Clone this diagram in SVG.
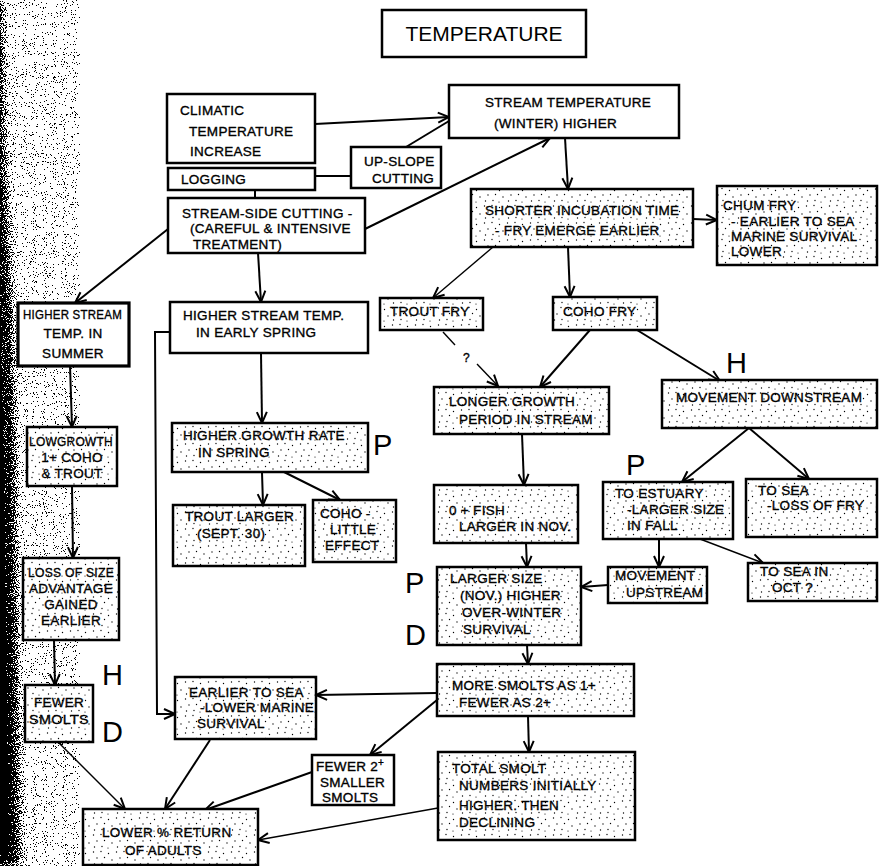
<svg xmlns="http://www.w3.org/2000/svg" width="879" height="866" viewBox="0 0 879 866">
  <defs>
    <style>
      text { font-family: "Liberation Sans", Arial, sans-serif; font-size: 13.5px; fill: #000; stroke: #000; stroke-width: 0.35; letter-spacing: 0.3px; }
      .big { font-size: 21px; letter-spacing: 0; stroke-width: 0; }
      .mark { font-size: 29px; letter-spacing: 0; stroke-width: 0; }
      .box { fill: #fff; stroke: #000; stroke-width: 2.5; }
      .dot { fill: url(#stipple); stroke: #000; stroke-width: 2.5; }
      .thick { stroke-width: 3.2; }
      #connectors path { fill: none; stroke: #000; stroke-width: 2; }
      #connectors path.thin { stroke-width: 1.4; }
      .arrow { marker-end: url(#head); }
    </style>
    <!-- irregular stipple used for shaded boxes -->
    <pattern id="stipple" patternUnits="userSpaceOnUse" width="23" height="17">
      <rect width="23" height="17" fill="#fff"/>
      <g fill="#000">
        <circle cx="1.5" cy="2" r="0.7"/>
        <circle cx="9" cy="1.5" r="0.65"/>
        <circle cx="16.5" cy="3.5" r="0.7"/>
        <circle cx="5" cy="8" r="0.65"/>
        <circle cx="12.5" cy="7.5" r="0.7"/>
        <circle cx="20" cy="10" r="0.65"/>
        <circle cx="2.5" cy="14" r="0.7"/>
        <circle cx="10" cy="13.5" r="0.65"/>
        <circle cx="16" cy="15" r="0.6"/>
      </g>
    </pattern>
    <marker id="head" markerUnits="userSpaceOnUse" viewBox="-12 -7 14 14" markerWidth="14" markerHeight="14" refX="0" refY="0" orient="auto">
      <path d="M-11,-5 L0,0 L-11,5" fill="none" stroke="#000" stroke-width="2"/>
    </marker>
    <!-- speckled dark margin along the left edge -->
    <filter id="grain" filterUnits="userSpaceOnUse" x="0" y="0" width="80" height="866" color-interpolation-filters="sRGB">
      <feGaussianBlur in="SourceGraphic" stdDeviation="5" result="soft"/>
      <feTurbulence type="fractalNoise" baseFrequency="0.9" numOctaves="2" seed="7" result="n"/>
      <feColorMatrix in="n" type="matrix" values="0 0 0 0 0  0 0 0 0 0  0 0 0 0 0  3 0 0 0 -1" result="na"/>
      <feComposite in="soft" in2="na" operator="arithmetic" k1="0" k2="1" k3="1" k4="-0.5" result="sum"/>
      <feComponentTransfer in="sum">
        <feFuncA type="discrete" tableValues="0 1"/>
      </feComponentTransfer>
    </filter>
  </defs>

  <rect width="879" height="866" fill="#fff"/>

  <path d="M-40,0 L2,0 L5,150 L11,300 L15,450 L17,600 L20,866 L-40,866 Z" fill="#000" filter="url(#grain)"/>

  <g id="connectors">
    <path class="arrow" d="M315,124 L449,117"/>
    <path d="M406,147 L449,121"/>
    <path d="M315,176 L351,176"/>
    <path d="M255,190 L255,198"/>
    <path class="arrow" d="M365,229 L550,138"/>
    <path class="arrow" d="M168,229 L75,303"/>
    <path class="arrow" d="M258,253 L261,302"/>
    <path class="arrow" d="M170,332 L155,332 L157,714 L175,714"/>
    <path class="arrow" d="M565,138 L568,189"/>
    <path class="arrow" d="M693,219 L717,220"/>
    <path class="arrow thin" d="M493,247 L433,298"/>
    <path class="arrow" d="M568,247 L570,297"/>
    <path class="thin" d="M443,332 L455,345"/>
    <path class="arrow thin" d="M477,364 L498,386"/>
    <path class="arrow" d="M590,330 L540,387"/>
    <path class="arrow" d="M637,330 L720,381"/>
    <path class="arrow" d="M522,434 L524,485"/>
    <path class="arrow" d="M749,428 L682,482"/>
    <path class="arrow" d="M749,428 L809,479"/>
    <path class="arrow" d="M526,543 L527,567"/>
    <path class="arrow" d="M659,539 L659,567"/>
    <path class="arrow thin" d="M700,539 L763,563"/>
    <path class="arrow" d="M608,585 L581,587"/>
    <path class="arrow" d="M527,645 L528,664"/>
    <path class="arrow" d="M437,693 L316,695"/>
    <path class="arrow" d="M437,700 L370,755"/>
    <path class="arrow" d="M528,716 L529,752"/>
    <path class="arrow" d="M70,366 L72,427"/>
    <path class="arrow" d="M261,353 L262,423"/>
    <path class="arrow" d="M262,472 L263,505"/>
    <path class="arrow" d="M280,470 L340,500"/>
    <path class="arrow" d="M72,486 L73,558"/>
    <path class="arrow" d="M54,640 L55,685"/>
    <path class="arrow thin" d="M58,742 L125,809"/>
    <path class="arrow" d="M210,740 L165,809"/>
    <path class="arrow" d="M312,772 L205,810"/>
    <path class="arrow thin" d="M438,808 L258,840"/>
    <text x="463" y="362" style="font-size:12px">?</text>
  </g>

  <g id="title">
    <rect class="box" x="382" y="10" width="204" height="47"/>
    <text class="big" x="484" y="41" text-anchor="middle">TEMPERATURE</text>
  </g>

  <g id="climatic">
    <rect class="box" x="167" y="94" width="148" height="69"/>
    <text x="180" y="115">CLIMATIC</text>
    <text x="189" y="136">TEMPERATURE</text>
    <text x="190" y="156">INCREASE</text>
  </g>

  <g id="logging">
    <rect class="box" x="168" y="168" width="147" height="22"/>
    <text x="181" y="184">LOGGING</text>
  </g>

  <g id="upslope">
    <rect class="box" x="351" y="147" width="90" height="41"/>
    <text x="364" y="166">UP-SLOPE</text>
    <text x="372" y="183">CUTTING</text>
  </g>

  <g id="streamside">
    <rect class="box" x="168" y="198" width="197" height="55"/>
    <text x="182" y="218">STREAM-SIDE CUTTING -</text>
    <text x="190" y="233">(CAREFUL &amp; INTENSIVE</text>
    <text x="193" y="249">TREATMENT)</text>
  </g>

  <g id="streamtemp">
    <rect class="box" x="449" y="85" width="230" height="53"/>
    <text x="485" y="107">STREAM TEMPERATURE</text>
    <text x="494" y="128">(WINTER) HIGHER</text>
  </g>

  <g id="incubation">
    <rect class="dot" x="471" y="189" width="222" height="58"/>
    <text x="485" y="215">SHORTER INCUBATION TIME</text>
    <text x="495" y="235">- FRY EMERGE EARLIER</text>
  </g>

  <g id="chum">
    <rect class="dot" x="717" y="186" width="160" height="79"/>
    <text x="723" y="210">CHUM FRY</text>
    <text x="731" y="226">- EARLIER TO SEA</text>
    <text x="731" y="241">MARINE SURVIVAL</text>
    <text x="731" y="256">LOWER</text>
  </g>

  <g id="summer">
    <rect class="box thick" x="18" y="303" width="111" height="63"/>
    <text x="23" y="319" textLength="99" lengthAdjust="spacingAndGlyphs">HIGHER STREAM</text>
    <text x="73" y="338" text-anchor="middle">TEMP. IN</text>
    <text x="73" y="358" text-anchor="middle">SUMMER</text>
  </g>

  <g id="spring">
    <rect class="box" x="170" y="302" width="198" height="51"/>
    <text x="183" y="320">HIGHER STREAM  TEMP.</text>
    <text x="196" y="337">IN  EARLY SPRING</text>
  </g>

  <g id="troutfry">
    <rect class="dot" x="380" y="298" width="103" height="32"/>
    <text x="390" y="316">TROUT  FRY</text>
  </g>

  <g id="cohofry">
    <rect class="dot" x="553" y="297" width="104" height="33"/>
    <text x="563" y="316">COHO FRY</text>
  </g>

  <g id="hmark1">
    <text class="mark" x="726" y="373">H</text>
  </g>

  <g id="longer">
    <rect class="dot" x="434" y="387" width="175" height="47"/>
    <text x="449" y="406">LONGER GROWTH</text>
    <text x="459" y="424">PERIOD IN STREAM</text>
  </g>

  <g id="downstream">
    <rect class="dot" x="662" y="380" width="215" height="48"/>
    <text x="676" y="402">MOVEMENT  DOWNSTREAM</text>
  </g>

  <g id="lowgrowth">
    <rect class="dot" x="27" y="427" width="90" height="59"/>
    <text x="29" y="446" textLength="84" lengthAdjust="spacingAndGlyphs">LOWGROWTH</text>
    <text x="72" y="462" text-anchor="middle">1+ COHO</text>
    <text x="72" y="478" text-anchor="middle">&amp; TROUT</text>
  </g>

  <g id="growthrate">
    <rect class="dot" x="172" y="423" width="196" height="49"/>
    <text x="183" y="440">HIGHER  GROWTH RATE</text>
    <text x="198" y="457">IN SPRING</text>
  </g>

  <g id="pmark1">
    <text class="mark" x="373" y="455">P</text>
  </g>

  <g id="troutlarger">
    <rect class="dot" x="173" y="505" width="132" height="61"/>
    <text x="185" y="521">TROUT LARGER</text>
    <text x="197" y="538">(SEPT. 30)</text>
  </g>

  <g id="coholittle">
    <rect class="dot" x="313" y="500" width="83" height="62"/>
    <text x="320" y="518">COHO -</text>
    <text x="330" y="534">LITTLE</text>
    <text x="325" y="550">EFFECT</text>
  </g>

  <g id="pmark2">
    <text class="mark" x="626" y="475">P</text>
  </g>

  <g id="zerofish">
    <rect class="dot" x="434" y="485" width="144" height="58"/>
    <text x="449" y="515">0 + FISH</text>
    <text x="459" y="531">LARGER IN NOV.</text>
  </g>

  <g id="estuary">
    <rect class="dot" x="603" y="482" width="130" height="57"/>
    <text x="615" y="498">TO ESTUARY</text>
    <text x="627" y="514">-LARGER SIZE</text>
    <text x="627" y="530">IN FALL</text>
  </g>

  <g id="sealoss">
    <rect class="dot" x="746" y="479" width="131" height="58"/>
    <text x="758" y="495">TO SEA</text>
    <text x="767" y="510">-LOSS OF FRY</text>
  </g>

  <g id="losssize">
    <rect class="dot" x="23" y="558" width="96" height="82"/>
    <text x="28" y="577" textLength="86" lengthAdjust="spacingAndGlyphs">LOSS OF SIZE</text>
    <text x="71" y="593" text-anchor="middle">ADVANTAGE</text>
    <text x="71" y="609" text-anchor="middle">GAINED</text>
    <text x="71" y="625" text-anchor="middle">EARLIER</text>
  </g>

  <g id="largersize">
    <rect class="dot" x="437" y="567" width="144" height="78"/>
    <text x="450" y="583">LARGER  SIZE</text>
    <text x="460" y="600">(NOV.) HIGHER</text>
    <text x="462" y="617">OVER-WINTER</text>
    <text x="463" y="634">SURVIVAL</text>
  </g>

  <g id="pdmark">
    <text class="mark" x="405" y="593">P</text>
    <text class="mark" x="405" y="645">D</text>
  </g>

  <g id="upstream">
    <rect class="dot" x="608" y="567" width="99" height="36"/>
    <text x="615" y="580">MOVEMENT</text>
    <text x="626" y="597">UPSTREAM</text>
  </g>

  <g id="seaoct">
    <rect class="dot" x="748" y="563" width="129" height="38"/>
    <text x="760" y="576">TO SEA IN</text>
    <text x="772" y="592">OCT ?</text>
  </g>

  <g id="moresmolts">
    <rect class="dot" x="437" y="664" width="197" height="52"/>
    <text x="452" y="690">MORE SMOLTS AS 1+</text>
    <text x="459" y="707">FEWER AS 2+</text>
  </g>

  <g id="fewersmolts">
    <rect class="dot" x="25" y="685" width="68" height="57"/>
    <text x="59" y="707" text-anchor="middle">FEWER</text>
    <text x="59" y="724" text-anchor="middle" textLength="60" lengthAdjust="spacingAndGlyphs">SMOLTS</text>
  </g>

  <g id="hdmark">
    <text class="mark" x="102" y="685">H</text>
    <text class="mark" x="102" y="742">D</text>
  </g>

  <g id="earliersea">
    <rect class="dot" x="175" y="677" width="141" height="62"/>
    <text x="189" y="697">EARLIER TO SEA</text>
    <text x="200" y="712">-LOWER MARINE</text>
    <text x="197" y="728">SURVIVAL</text>
  </g>

  <g id="fewer2">
    <rect class="box" x="312" y="755" width="82" height="50"/>
    <text x="316" y="771">FEWER 2<tspan dy="-5" style="font-size:10px">+</tspan></text>
    <text x="320" y="787">SMALLER</text>
    <text x="322" y="802">SMOLTS</text>
  </g>

  <g id="totalsmolt">
    <rect class="dot" x="438" y="752" width="197" height="88"/>
    <text x="452" y="773">TOTAL SMOLT</text>
    <text x="459" y="790">NUMBERS INITIALLY</text>
    <text x="459" y="810">HIGHER. THEN</text>
    <text x="459" y="827">DECLINING</text>
  </g>

  <g id="lowerreturn">
    <rect class="dot" x="83" y="809" width="175" height="56"/>
    <text x="102" y="837">LOWER % RETURN</text>
    <text x="125" y="855">OF ADULTS</text>
  </g>
</svg>
